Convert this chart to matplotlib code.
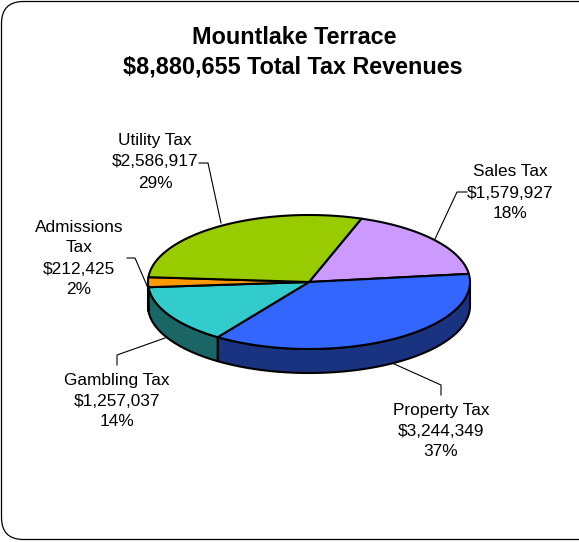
import numpy as np
import matplotlib
matplotlib.use("Agg")
import matplotlib.pyplot as plt
from matplotlib.patches import Polygon, FancyBboxPatch

plt.rcParams['font.family'] = ['Liberation Sans', 'DejaVu Sans']

# Revenue sources, in drawing order (clockwise from the top-right)
categories = ["Sales Tax", "Property Tax", "Gambling Tax", "Admissions\nTax", "Utility Tax"]
values = [1579927, 3244349, 1257037, 212425, 2586917]
top_colors = ["#CC99FF", "#3366FF", "#33CCCC", "#FF9900", "#99CC00"]
side_colors = ["#66508A", "#1A3380", "#1A6666", "#805000", "#4D6600"]
title_lines = ["Mountlake Terrace", "$8,880,655 Total Tax Revenues"]

W, H = 579, 542
fig = plt.figure(figsize=(W / 100, H / 100), dpi=100)
ax = fig.add_axes([0, 0, 1, 1])
ax.set_xlim(0, W)
ax.set_ylim(H, 0)
ax.axis("off")

# Rounded chart frame
frame = FancyBboxPatch((1.5, 1.5), 600, 538, boxstyle="round,pad=0,rounding_size=22",
                       fill=False, ec="black", lw=0.9, clip_on=False)
ax.add_patch(frame)

# Elliptical projection of the 3-D pie
cx, cy, ra, rb, depth = 309, 282, 161, 67, 24
start = 71.0
total = sum(values)
sweeps = [v / total * 360 for v in values]


def rim(theta_deg, dy=0.0):
    t = np.radians(theta_deg)
    return cx + ra * np.cos(t), cy - rb * np.sin(t) + dy


edges = []
a0 = start
for s in sweeps:
    edges.append((a0 - s, a0))
    a0 -= s

# Side walls: only the front half (angles in [-180, 0]) is visible
for (lo, hi), col in zip(edges, side_colors):
    for shift in (0, 360, -360):
        l, h = lo + shift, hi + shift
        l2, h2 = max(l, -180), min(h, 0)
        if h2 > l2:
            th = np.linspace(l2, h2, 80)
            top = [rim(t) for t in th]
            bot = [rim(t, depth) for t in th[::-1]]
            ax.add_patch(Polygon(top + bot, closed=True, fc=col, ec="black",
                                 lw=1.5, joinstyle="round"))

# Top faces
for (lo, hi), col in zip(edges, top_colors):
    th = np.linspace(lo, hi, 120)
    pts = [(cx, cy)] + [rim(t) for t in th]
    ax.add_patch(Polygon(pts, closed=True, fc=col, ec="black", lw=1.5,
                         joinstyle="round"))

# Title
ax.text(294.5, 43.5, title_lines[0], ha="center", va="baseline", fontsize=16.8,
        fontweight="bold")
ax.text(293, 73.5, title_lines[1], ha="center", va="baseline", fontsize=16.8,
        fontweight="bold")


def money(v):
    return "${:,}".format(v)


# Data labels: (x, y of first line), leader polyline
label_pos = [
    (510, 172),
    (441, 410),
    (117, 380),
    (79, 227),
    (155, 141),
]
leaders = [
    [(467, 192), (457, 192), (435, 239)],
    [(441, 395), (441, 385), (392, 363)],
    [(117, 365), (117, 355), (165, 338)],
    [(127, 258), (135, 258), (148, 288)],
    [(199, 163), (208, 163), (221, 223)],
]
step = 21
for name, v, (lx, ly), lead in zip(categories, values, label_pos, leaders):
    pct = "{:.0f}%".format(v / total * 100)
    lines = name.split("\n") + [money(v), pct]
    for i, line in enumerate(lines):
        ax.text(lx, ly + i * step, line, ha="center", va="center", fontsize=12.4)
    xs, ys = zip(*lead)
    ax.plot(xs, ys, color="black", lw=0.8)

fig.savefig("out.png", dpi=100, facecolor="white")
